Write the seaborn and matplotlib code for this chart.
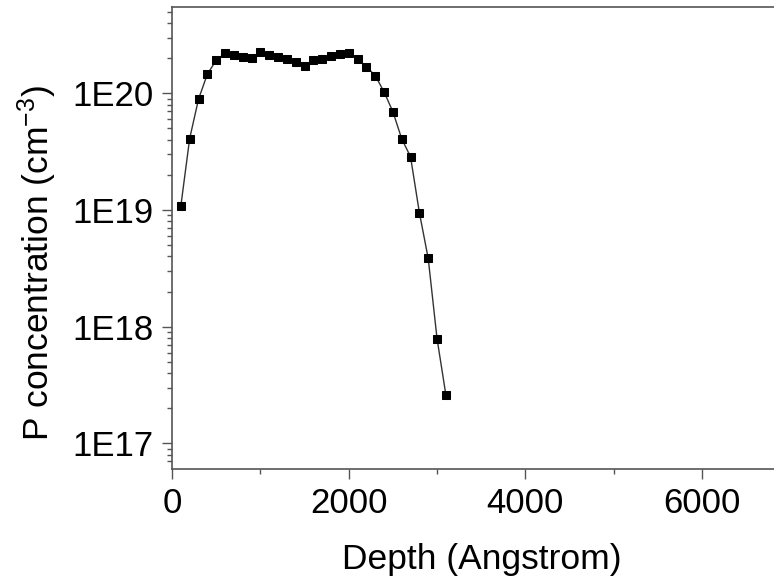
import numpy as np
import pandas as pd
import matplotlib
matplotlib.use("Agg")
import matplotlib.pyplot as plt
import seaborn as sns
from matplotlib.ticker import LogLocator, FixedLocator, MultipleLocator, FuncFormatter

depth = [100, 200, 300, 400, 500, 600, 700, 800, 900, 1000,
         1100, 1200, 1300, 1400, 1500, 1600, 1700, 1800, 1900, 2000,
         2100, 2200, 2300, 2400, 2500, 2600, 2700, 2800, 2900, 3000, 3100]
conc = [1.08e19, 4.1e19, 8.9e19, 1.46e20, 1.92e20, 2.2e20, 2.14e20, 2.06e20, 2.0e20, 2.24e20,
        2.12e20, 2.06e20, 1.97e20, 1.87e20, 1.71e20, 1.93e20, 1.98e20, 2.1e20, 2.16e20, 2.2e20,
        1.97e20, 1.69e20, 1.42e20, 1.03e20, 6.96e19, 4.08e19, 2.86e19, 9.5e18, 3.85e18, 7.9e17, 2.6e17]
x_ticks = [0, 2000, 4000, 6000]
y_ticks = [1e17, 1e18, 1e19, 1e20]
y_tick_labels = ["1E17", "1E18", "1E19", "1E20"]

df = pd.DataFrame({"Depth": depth, "Conc": conc})

sns.set_style("ticks")
plt.rcParams["font.family"] = ["Liberation Sans", "DejaVu Sans"]
plt.rcParams["mathtext.fontset"] = "custom"
plt.rcParams["mathtext.rm"] = "Liberation Sans"
plt.rcParams["mathtext.it"] = "Liberation Sans"
plt.rcParams["mathtext.default"] = "regular"

W, H = 774, 578
fig = plt.figure(figsize=(W / 100, H / 100), dpi=100)
left, right, top, bottom = 172, 774, 7, 469
ax = fig.add_axes([left / W, (H - bottom) / H, (right - left) / W, (bottom - top) / H])

sns.lineplot(data=df, x="Depth", y="Conc", ax=ax, color="#333333", linewidth=1.0,
             marker="s", markersize=6, markerfacecolor="black", markeredgecolor="black")

ax.set_yscale("log")
ax.set_xlim(0, 6814)
ax.set_ylim(10 ** 16.78, 10 ** 20.74)

ax.xaxis.set_major_locator(FixedLocator(x_ticks))
ax.xaxis.set_minor_locator(MultipleLocator(1000))
ax.set_xticklabels([str(t) for t in x_ticks])
ax.yaxis.set_major_locator(FixedLocator(y_ticks))
ax.set_yticklabels(y_tick_labels)
ax.yaxis.set_minor_locator(LogLocator(base=10, subs=np.arange(2, 10)))
ax.yaxis.set_minor_formatter(FuncFormatter(lambda v, p: ""))

for s in ["left", "bottom", "top"]:
    ax.spines[s].set_color("#555555")
    ax.spines[s].set_linewidth(1.2)
ax.spines["right"].set_visible(False)

ax.tick_params(axis="both", which="major", direction="out", length=7, width=1.0,
               color="#555555", labelsize=25, pad=6, labelcolor="black")
ax.tick_params(axis="both", which="minor", direction="out", length=3.5, width=1.0,
               color="#555555")
ax.tick_params(axis="x", which="both", top=False)

ax.set_xlabel("Depth (Angstrom)", fontsize=25.5, color="black")
ax.set_ylabel("P concentration (cm$^{-3}$)", fontsize=25.5, color="black")
ax.xaxis.set_label_coords((481.7 - left) / (right - left), (bottom - 543) / (bottom - top))
ax.yaxis.set_label_coords((59 - left) / (right - left), (bottom - 263) / (bottom - top))

fig.savefig("out.png", dpi=100)
